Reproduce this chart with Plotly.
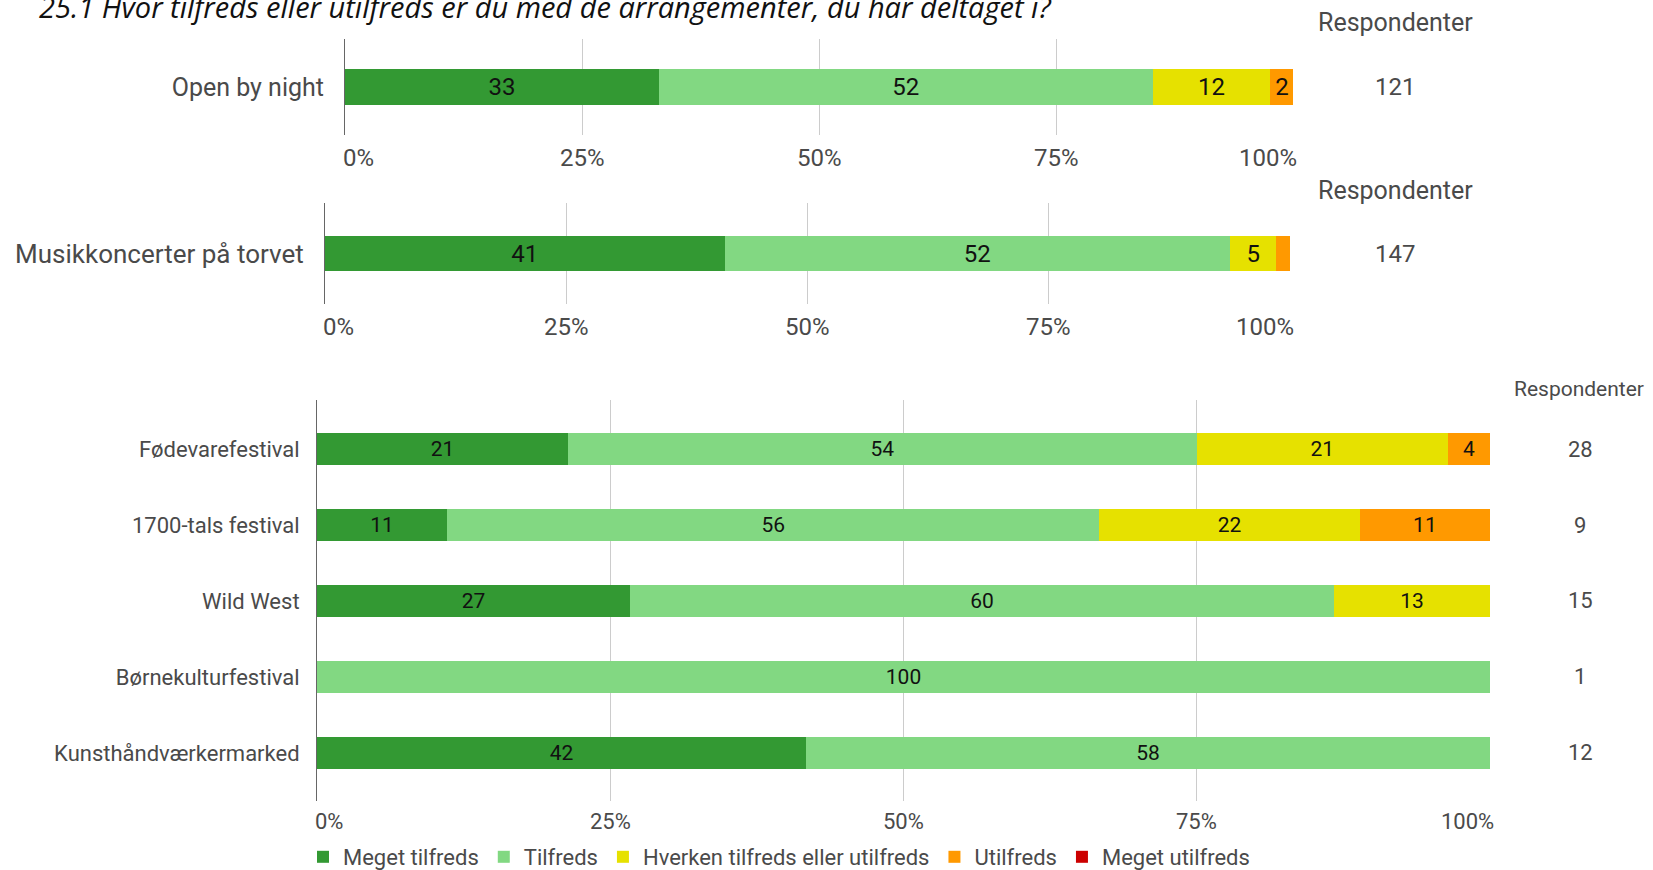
import plotly.graph_objects as go

# ---------------- data ----------------
title_text = "25.1 Hvor tilfreds eller utilfreds er du med de arrangementer, du har deltaget i?"
series_names = ["Meget tilfreds", "Tilfreds", "Hverken tilfreds eller utilfreds", "Utilfreds", "Meget utilfreds"]
series_colors = ["#339933", "#82d882", "#e6e100", "#ff9900", "#cc0000"]

top_events = ["Open by night", "Musikkoncerter på torvet"]
top_respondents = [121, 147]
meget_tilfreds_top = [33.1, 41.4]
tilfreds_top = [52.1, 52.4]
hverken_top = [12.4, 4.8]
utilfreds_top = [2.5, 1.4]
meget_utilfreds_top = [0.0, 0.0]

bottom_events = ["Fødevarefestival", "1700-tals festival", "Wild West", "Børnekulturfestival", "Kunsthåndværkermarked"]
bottom_respondents = [28, 9, 15, 1, 12]
meget_tilfreds_bot = [21.4, 11.1, 26.7, 0.0, 41.7]
tilfreds_bot = [53.6, 55.6, 60.0, 100.0, 58.3]
hverken_bot = [21.4, 22.2, 13.3, 0.0, 0.0]
utilfreds_bot = [3.6, 11.1, 0.0, 0.0, 0.0]
meget_utilfreds_bot = [0.0, 0.0, 0.0, 0.0, 0.0]

tick_vals = [0, 25, 50, 75, 100]
tick_labels = ["0%", "25%", "50%", "75%", "100%"]
resp_header = "Respondenter"

top_series = [meget_tilfreds_top, tilfreds_top, hverken_top, utilfreds_top, meget_utilfreds_top]
bot_series = [meget_tilfreds_bot, tilfreds_bot, hverken_bot, utilfreds_bot, meget_utilfreds_bot]

# ---------------- layout helpers ----------------
W, H = 1653, 870
FONT = "Roboto, Arial, sans-serif"
TXT = "#4a4a4a"


def fx(px):
    return px / W


def fy(py):
    return 1 - py / H


def lab(v):
    return f"{v:.0f}" if v >= 2 else ""


fig = go.Figure()

# subplot specs: (xaxis id, yaxis id, x0px, x1px, ytop, ybot, label size, tick size, bar text size, standoff)
subs = [
    ("x", "y", 345, 1293, 39, 135, 25, 24, 24, 15),
    ("x2", "y2", 325, 1290, 203, 304, 26, 24, 24, 15),
    ("x3", "y3", 317, 1490, 400, 801, 22, 22, 21, 12),
]

# top charts
for i, ev in enumerate(top_events):
    xa, ya = subs[i][0], subs[i][1]
    fs = subs[i][8]
    for s, name in enumerate(series_names):
        v = top_series[s][i]
        fig.add_trace(go.Bar(
            x=[v], y=[ev], orientation="h", name=name,
            marker=dict(color=series_colors[s], line=dict(width=0)),
            text=[lab(v)], textposition="inside", insidetextanchor="middle",
            constraintext="none", textangle=0,
            textfont=dict(family=FONT, size=fs, color="#111111"),
            width=0.37 if i == 0 else 0.356,
            xaxis=xa, yaxis=ya, showlegend=False, legendgroup=name,
            hoverinfo="skip",
        ))

# bottom chart
for s, name in enumerate(series_names):
    vals = bot_series[s]
    fig.add_trace(go.Bar(
        x=vals, y=bottom_events, orientation="h", name=name,
        marker=dict(color=series_colors[s], line=dict(width=0)),
        text=[lab(v) for v in vals], textposition="inside", insidetextanchor="middle",
        constraintext="none", textangle=0,
        textfont=dict(family=FONT, size=subs[2][8], color="#111111"),
        width=0.416,
        xaxis="x3", yaxis="y3", showlegend=True, legendgroup=name,
        hoverinfo="skip",
    ))

layout = dict(
    width=W, height=H, barmode="stack",
    margin=dict(l=0, r=0, t=0, b=0, autoexpand=False),
    paper_bgcolor="white", plot_bgcolor="white",
    font=dict(family=FONT, color=TXT),
    showlegend=True,
    legend=dict(orientation="h", x=fx(303), xanchor="left", y=fy(857), yanchor="middle",
                font=dict(family=FONT, size=22, color=TXT), bgcolor="rgba(0,0,0,0)",
                traceorder="normal", itemclick=False, tracegroupgap=0),
)

annotations = []
yranges = [[0.5, -0.5], [0.5, -0.5], [4.632, -0.645]]
tick_y = [158, 327, 821]
for k, (xa, ya, x0, x1, yt, yb, lfs, tfs, bfs, so) in enumerate(subs):
    xkey = "xaxis" if xa == "x" else "xaxis" + xa[1:]
    ykey = "yaxis" if ya == "y" else "yaxis" + ya[1:]
    layout[xkey] = dict(domain=[fx(x0), fx(x1)], range=[0, 100], anchor=ya,
                        tickvals=tick_vals, showticklabels=False, ticks="",
                        showgrid=True, gridcolor="#cccccc", gridwidth=1,
                        zeroline=False, showline=False, fixedrange=True, automargin=False)
    cats = top_events[k:k + 1] if k < 2 else bottom_events
    layout[ykey] = dict(domain=[fy(yb), fy(yt)], anchor=xa, type="category",
                        categoryorder="array", categoryarray=cats, range=yranges[k],
                        showline=True, linecolor="#666666", linewidth=1,
                        showgrid=False, zeroline=False, ticks="",
                        ticklabelstandoff=so,
                        tickfont=dict(family=FONT, size=lfs, color=TXT),
                        fixedrange=True, automargin=False)
    # x tick labels
    for tv, tl in zip(tick_vals, tick_labels):
        if tv == tick_vals[0]:
            anchor, shift = "left", -4
        elif tv == tick_vals[-1]:
            anchor, shift = "right", 6
        else:
            anchor, shift = "center", 0
        annotations.append(dict(x=tv, xref=xa, y=fy(tick_y[k]), yref="paper",
                                text=tl, showarrow=False, xanchor=anchor, yanchor="middle",
                                xshift=shift, font=dict(family=FONT, size=tfs, color=TXT)))

# respondent columns
resp_hdr_y = [23, 190]
for i, ev in enumerate(top_events):
    ya = subs[i][1]
    annotations.append(dict(x=fx(1395), xref="paper", y=fy(resp_hdr_y[i]), yref="paper",
                            text=resp_header, showarrow=False, xanchor="center", yanchor="middle",
                            font=dict(family=FONT, size=25, color=TXT)))
    annotations.append(dict(x=fx(1395), xref="paper", y=ev, yref=ya,
                            text=str(top_respondents[i]), showarrow=False, xanchor="center",
                            yanchor="middle", font=dict(family=FONT, size=24, color=TXT)))
annotations.append(dict(x=fx(1579), xref="paper", y=fy(389), yref="paper",
                        text=resp_header, showarrow=False, xanchor="center", yanchor="middle",
                        font=dict(family=FONT, size=21, color=TXT)))
for ev, n in zip(bottom_events, bottom_respondents):
    annotations.append(dict(x=fx(1580), xref="paper", y=ev, yref="y3",
                            text=str(n), showarrow=False, xanchor="center", yanchor="middle",
                            font=dict(family=FONT, size=22, color=TXT)))

# title (cut at top in reference)
annotations.append(dict(x=fx(37), xref="paper", y=fy(6), yref="paper",
                        text=f"<i>{title_text}</i>", showarrow=False, xanchor="left",
                        yanchor="middle", font=dict(family="Open Sans, sans-serif", size=29, color="#111111")))

layout["annotations"] = annotations
fig.update_layout(**layout)

fig.write_html("out.html", config={"displayModeBar": False},
               post_script="document.body.style.margin='0';document.body.style.overflow='hidden';")
